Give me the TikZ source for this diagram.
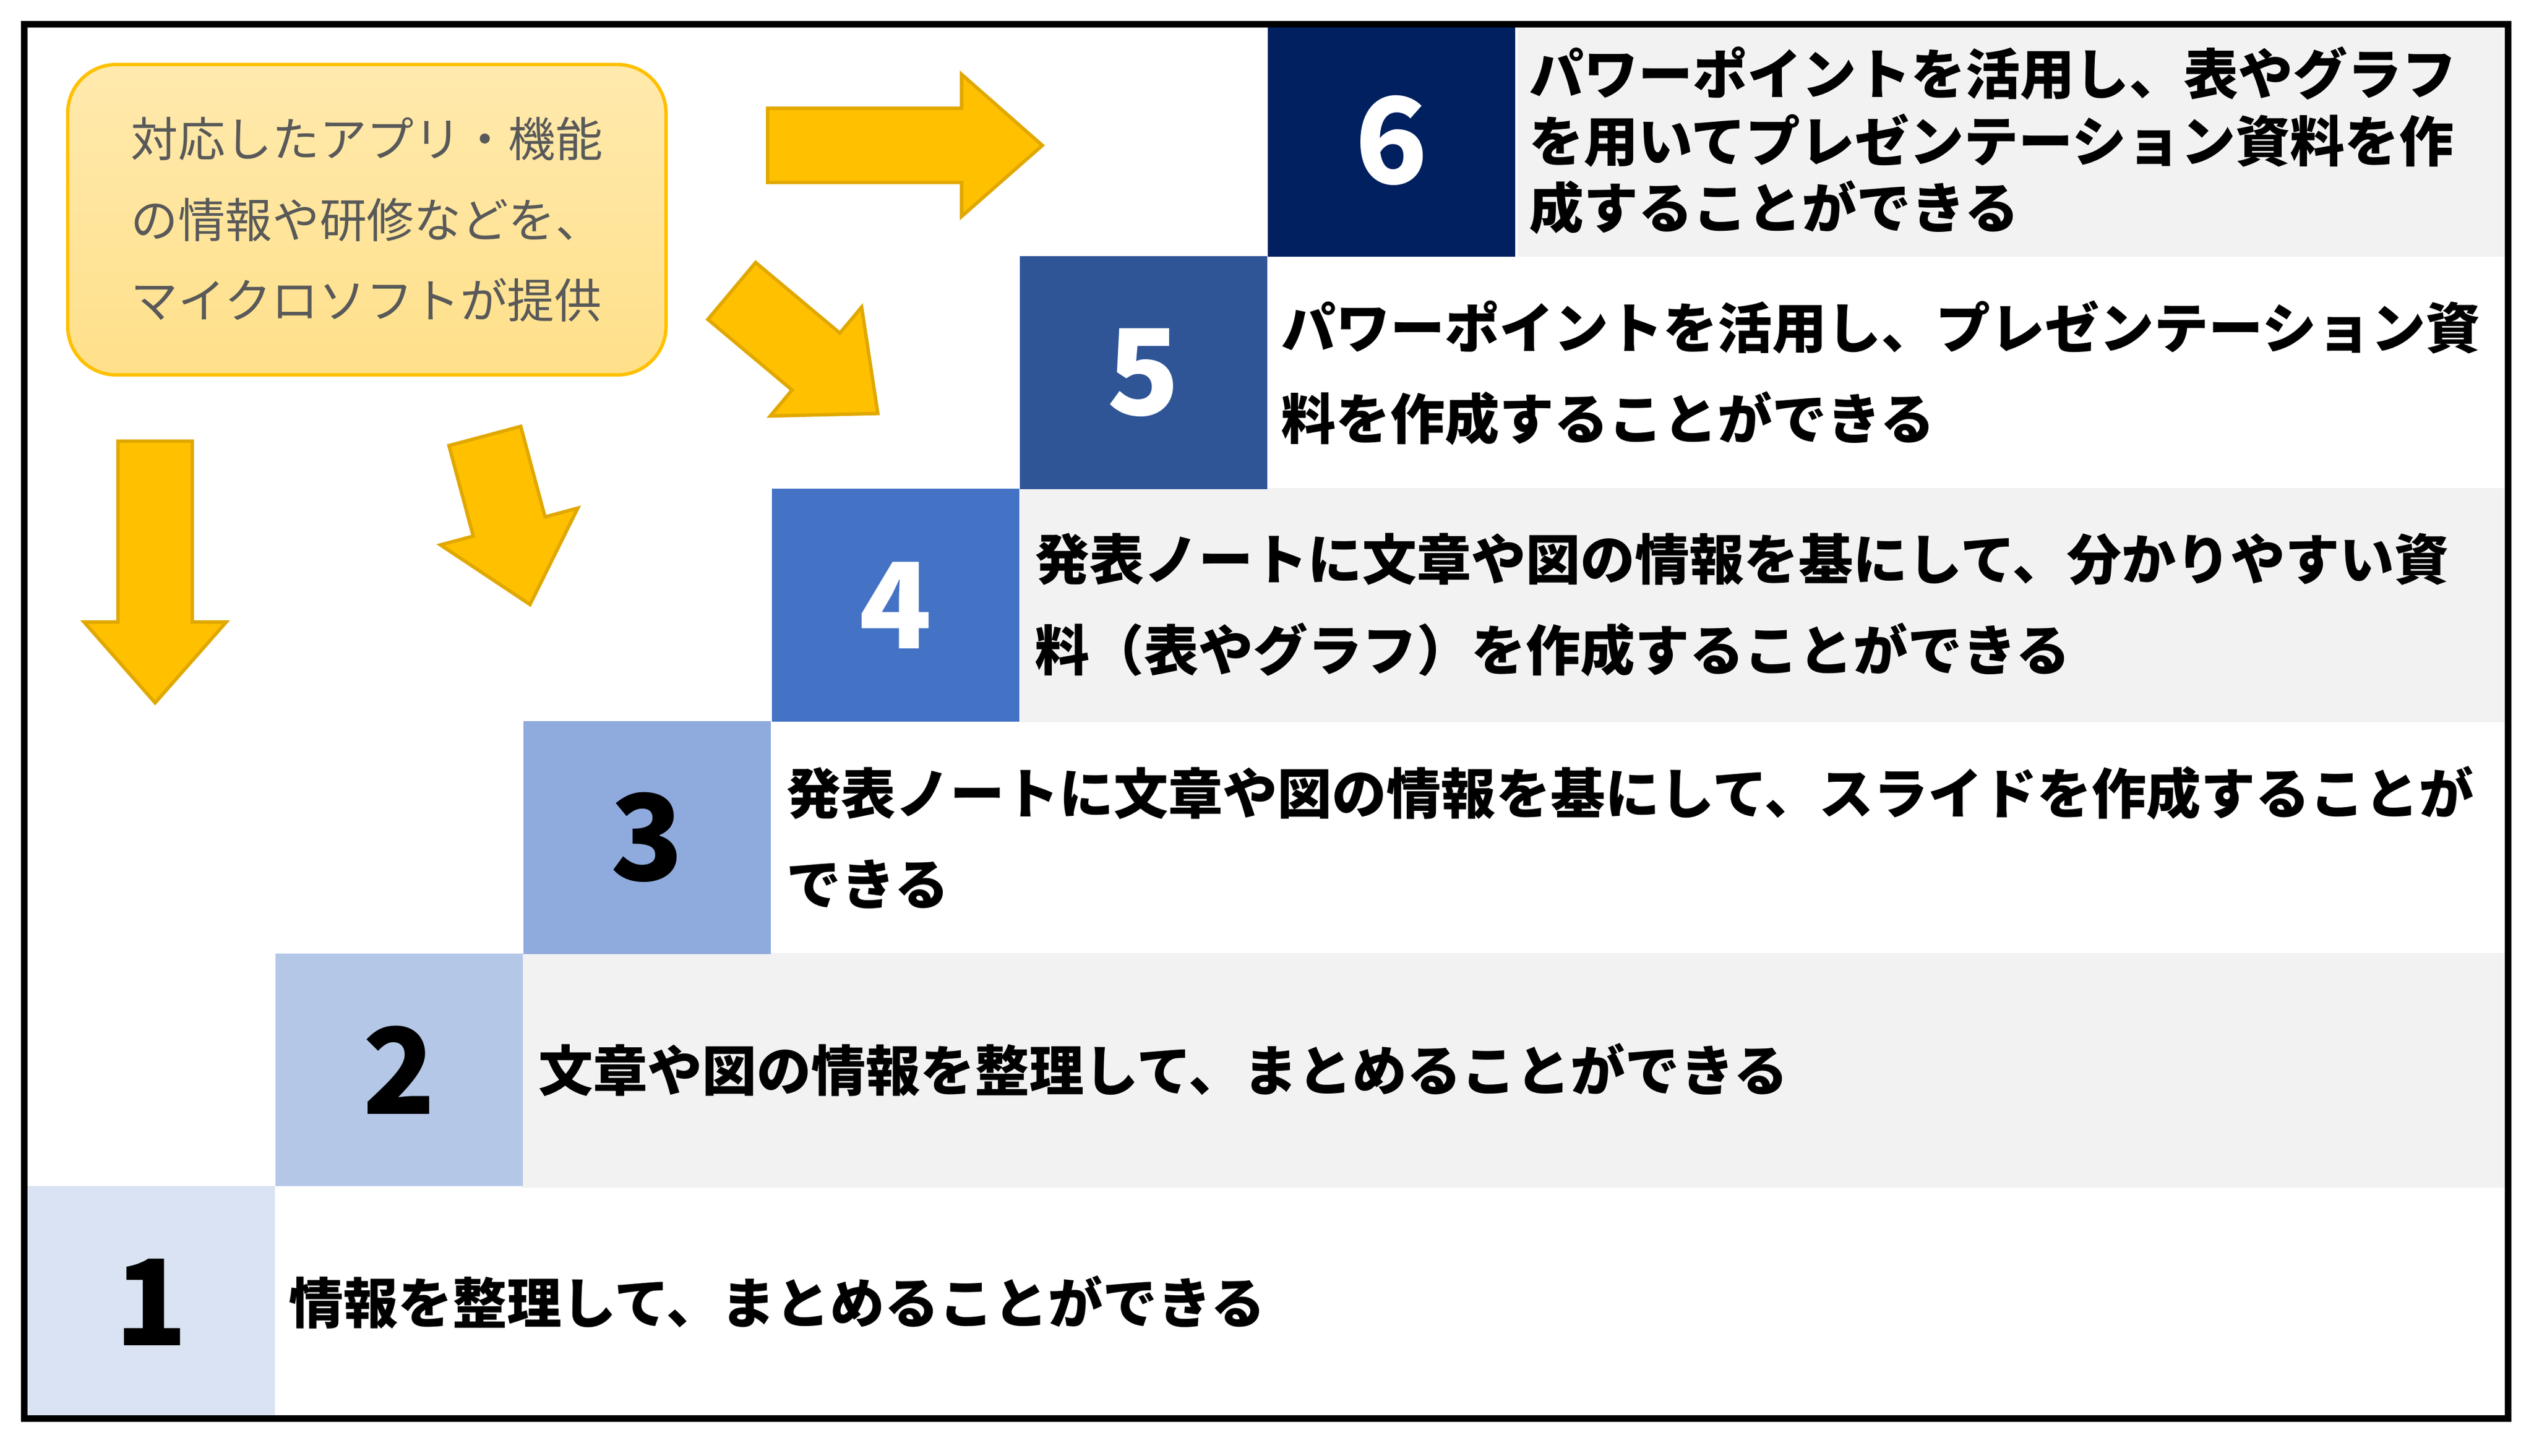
\documentclass[tikz,border=0pt]{standalone}
\usepackage{fontspec}
\setmainfont{Noto Sans CJK JP}
\definecolor{stepA}{HTML}{DAE3F3}
\definecolor{stepB}{HTML}{B4C7E7}
\definecolor{stepC}{HTML}{8FAADC}
\definecolor{stepD}{HTML}{4472C4}
\definecolor{stepE}{HTML}{2F5597}
\definecolor{stepF}{HTML}{002060}
\definecolor{band}{HTML}{F2F2F2}
\definecolor{arrowfill}{HTML}{FFC000}
\definecolor{arrowline}{HTML}{E0A800}
\definecolor{notefill}{HTML}{FFE08A}
\definecolor{notetext}{HTML}{595959}
\tikzset{
  stepbox/.style={minimum width=1.53cm, minimum height=1.44cm, inner sep=0pt, outer sep=0pt,
    font=\fontsize{21}{24}\selectfont\bfseries},
  bandtext/.style={anchor=west, align=left, inner sep=0pt, font=\bfseries\fontsize{9.6}{16}\selectfont},
}
\newcommand{\blockarrow}[4]{% center, angle, length, name
  \begin{scope}[shift={#1}, rotate=#2]
    \draw[fill=arrowfill, draw=arrowline, line width=0.6pt]
      (-#3/2,-23) -- (#3/2-50,-23) -- (#3/2-50,-44) -- (#3/2,0)
      -- (#3/2-50,44) -- (#3/2-50,23) -- (-#3/2,23) -- cycle;
    \coordinate (#4) at (0,0);
  \end{scope}}
\begin{document}
\begin{tikzpicture}[x=0.01cm, y=0.01cm]
\useasboundingbox (0,0) rectangle (1568,-901);

% bands
\fill[band] (323,-590) rectangle (1550,-735);
\fill[band] (631,-302) rectangle (1550,-447);
\fill[band] (939,-15) rectangle (1550,-159);

% steps
\foreach \i/\col/\txt in {1/stepA/black, 2/stepB/black, 3/stepC/black,
                          4/stepD/white, 5/stepE/white, 6/stepF/white} {
  \node[stepbox, fill=\col, text=\txt, anchor=south west]
    (s\i) at ({17+153.5*(\i-1)}, {-878+143.8*(\i-1)}) {\i};
}

% step texts
\node[bandtext] (t1) at ([xshift=0.08cm] s1.east) {情報を整理して、まとめることができる};
\node[bandtext] (t2) at ([xshift=0.09cm] s2.east) {文章や図の情報を整理して、まとめることができる};
\node[bandtext] (t3) at ([xshift=0.09cm] s3.east) {発表ノートに文章や図の情報を基にして、スライドを作成することが\\できる};
\node[bandtext] (t4) at ([xshift=0.09cm] s4.east) {発表ノートに文章や図の情報を基にして、分かりやすい資\\料（表やグラフ）を作成することができる};
\node[bandtext] (t5) at ([xshift=0.08cm] s5.east) {パワーポイントを活用し、プレゼンテーション資\\料を作成することができる};
\node[bandtext, font=\bfseries\fontsize{9.6}{11.8}\selectfont] (t6) at ([xshift=0.08cm] s6.east)
  {パワーポイントを活用し、表やグラフ\\を用いてプレゼンテーション資料を作\\成することができる};

% note
\node[draw=arrowfill, line width=0.6pt, rounded corners=0.3cm, top color=notefill!70!white,
  bottom color=notefill, minimum width=3.7cm, minimum height=1.92cm, align=left,
  text=notetext, font=\fontsize{8.3}{14.2}\selectfont] (note) at (227,-136)
  {対応したアプリ・機能\\の情報や研修などを、\\マイクロソフトが提供};

% arrows
\blockarrow{(96,-354)}{-90}{162}{a1}
\blockarrow{(314,-322)}{-75}{108}{a2}
\blockarrow{(498,-218)}{-40}{118}{a3}
\blockarrow{(560,-90)}{0}{170}{a4}

% frame
\draw[line width=1.2pt] (15,-15) rectangle (1552,-878);
\end{tikzpicture}
\end{document}
